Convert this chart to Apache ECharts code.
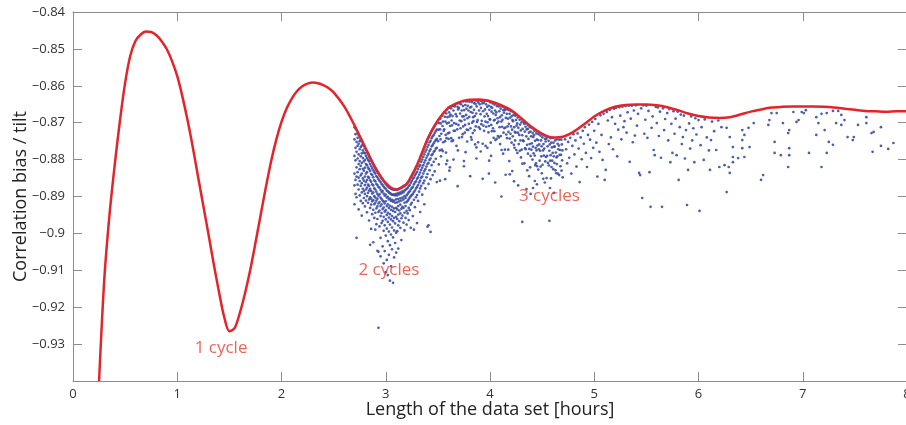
<!DOCTYPE html>
<html>
<head>
<meta charset="utf-8">
<script src="https://cdn.jsdelivr.net/npm/echarts@6/dist/echarts.min.js"></script>
<style>
html,body{margin:0;padding:0;background:#fff;}
#chart{width:906px;height:425px;}
</style>
</head>
<body>
<div id="chart"></div>
<script>
// ---- Axis labels ----
var xTickLabels = ['0','1','2','3','4','5','6','7','8'];
var xTitle = 'Length of the data set [hours]';
var yTitle = 'Correlation bias / tilt';

// ---- Red curve ----
var curveX = [0.25,0.30,0.35,0.40,0.45,0.50,0.55,0.60,0.65,0.70,0.75,0.80,0.85,0.90,0.95,1.00,1.05,1.10,1.15,1.20,1.25,1.30,1.35,1.40,1.45,1.50,1.55,1.60,1.65,1.70,1.75,1.80,1.85,1.90,1.95,2.00,2.05,2.10,2.15,2.20,2.25,2.30,2.35,2.40,2.45,2.50,2.60,2.70,2.80,2.90,3.00,3.10,3.20,3.30,3.40,3.50,3.60,3.70,3.80,3.90,4.00,4.10,4.20,4.30,4.40,4.50,4.60,4.70,4.80,4.90,5.00,5.10,5.20,5.30,5.40,5.50,5.60,5.70,5.80,5.90,6.00,6.10,6.20,6.30,6.40,6.50,6.60,6.70,6.80,6.90,7.00,7.10,7.20,7.30,7.40,7.50,7.60,7.70,7.80,7.90,8.00];
var curveY = [-0.9400,-0.9125,-0.8950,-0.8815,-0.8695,-0.8592,-0.8518,-0.8478,-0.8461,-0.8453,-0.8454,-0.8463,-0.8479,-0.8501,-0.8533,-0.8574,-0.8630,-0.8695,-0.8768,-0.8847,-0.8925,-0.9003,-0.9083,-0.9158,-0.9226,-0.9265,-0.9257,-0.9216,-0.9162,-0.9099,-0.9026,-0.8950,-0.8875,-0.8805,-0.8746,-0.8698,-0.8661,-0.8634,-0.8614,-0.8601,-0.8594,-0.8591,-0.8593,-0.8598,-0.8606,-0.8618,-0.8655,-0.8707,-0.8765,-0.8822,-0.8864,-0.8881,-0.8866,-0.8815,-0.8745,-0.8694,-0.8660,-0.8645,-0.8638,-0.8637,-0.8642,-0.8652,-0.8666,-0.8688,-0.8712,-0.8730,-0.8740,-0.8738,-0.8725,-0.8705,-0.8683,-0.8667,-0.8657,-0.8652,-0.8651,-0.8651,-0.8653,-0.8658,-0.8666,-0.8675,-0.8682,-0.8686,-0.8687,-0.8685,-0.8678,-0.8670,-0.8664,-0.8659,-0.8657,-0.8656,-0.8656,-0.8656,-0.8657,-0.8659,-0.8662,-0.8665,-0.8668,-0.8669,-0.8670,-0.8669,-0.8669];

// ---- Blue scatter, trough cluster: columns [x, y1, y2, ...] ----
var troughColumns = [
[2.70,-0.8712,-0.8745,-0.8790,-0.8838,-0.8870,-0.8921],
[2.71,-0.8716,-0.8731,-0.8768,-0.8802,-0.8855,-0.8893],
[2.72,-0.8720,-0.8752,-0.8779,-0.8821,-0.8846,-0.8902,-0.9012],
[2.73,-0.8728,-0.8741,-0.8763,-0.8797,-0.8834,-0.8868],
[2.74,-0.8733,-0.8757,-0.8786,-0.8812,-0.8849,-0.8881,-0.8935],
[2.75,-0.8739,-0.8750,-0.8772,-0.8804,-0.8826,-0.8858,-0.8897],
[2.76,-0.8745,-0.8766,-0.8791,-0.8817,-0.8843,-0.8871,-0.8912],
[2.77,-0.8751,-0.8762,-0.8783,-0.8809,-0.8838,-0.8864,-0.8889,-0.8952],
[2.78,-0.8757,-0.8775,-0.8796,-0.8825,-0.8851,-0.8879,-0.8918],
[2.79,-0.8763,-0.8781,-0.8805,-0.8830,-0.8857,-0.8885,-0.8904],
[2.80,-0.8769,-0.8783,-0.8801,-0.8822,-0.8846,-0.8869,-0.8893,-0.8927],
[2.81,-0.8774,-0.8790,-0.8812,-0.8838,-0.8861,-0.8881,-0.8911],
[2.82,-0.8780,-0.8796,-0.8815,-0.8834,-0.8855,-0.8876,-0.8899,-0.8943],
[2.83,-0.8786,-0.8801,-0.8822,-0.8847,-0.8868,-0.8890,-0.8917],
[2.84,-0.8792,-0.8805,-0.8826,-0.8849,-0.8871,-0.8884,-0.8908,-0.8965],
[2.85,-0.8797,-0.8812,-0.8831,-0.8856,-0.8879,-0.8902,-0.8931,-0.9031],
[2.86,-0.8803,-0.8818,-0.8839,-0.8860,-0.8885,-0.8906,-0.8922,-0.8988],
[2.87,-0.8808,-0.8824,-0.8842,-0.8867,-0.8892,-0.8913,-0.8948],
[2.88,-0.8813,-0.8829,-0.8848,-0.8870,-0.8889,-0.8910,-0.8936,-0.9024],
[2.89,-0.8819,-0.8834,-0.8856,-0.8878,-0.8899,-0.8921,-0.8958],
[2.90,-0.8824,-0.8838,-0.8859,-0.8881,-0.8903,-0.8917,-0.8944,-0.8990],
[2.91,-0.8829,-0.8845,-0.8866,-0.8887,-0.8911,-0.8932,-0.8975],
[2.92,-0.8833,-0.8848,-0.8869,-0.8893,-0.8906,-0.8927,-0.8961,-0.9047],
[2.93,-0.8838,-0.8853,-0.8874,-0.8898,-0.8919,-0.8942,-0.9050,-0.9256],
[2.94,-0.8842,-0.8857,-0.8876,-0.8894,-0.8915,-0.8938,-0.8981],
[2.95,-0.8846,-0.8861,-0.8882,-0.8903,-0.8926,-0.8953,-0.9012,-0.9062],
[2.96,-0.8850,-0.8866,-0.8888,-0.8907,-0.8921,-0.8945,-0.8972],
[2.97,-0.8854,-0.8869,-0.8885,-0.8911,-0.8934,-0.8966,-0.9035],
[2.98,-0.8858,-0.8873,-0.8892,-0.8914,-0.8930,-0.8955,-0.8993,-0.9081],
[2.99,-0.8862,-0.8877,-0.8898,-0.8919,-0.8941,-0.8978,-0.9048],
[3.00,-0.8866,-0.8879,-0.8895,-0.8913,-0.8937,-0.8962,-0.9006,-0.9105],
[3.01,-0.8869,-0.8884,-0.8903,-0.8926,-0.8950,-0.8987,-0.9072],
[3.02,-0.8872,-0.8886,-0.8901,-0.8921,-0.8944,-0.8969,-0.9021,-0.9113],
[3.03,-0.8875,-0.8889,-0.8908,-0.8931,-0.8957,-0.8995,-0.9058],
[3.04,-0.8877,-0.8891,-0.8906,-0.8925,-0.8948,-0.8976,-0.9032,-0.9128],
[3.05,-0.8879,-0.8893,-0.8912,-0.8936,-0.8962,-0.9003,-0.9089],
[3.06,-0.8880,-0.8895,-0.8909,-0.8928,-0.8953,-0.8984,-0.9043],
[3.07,-0.8881,-0.8896,-0.8914,-0.8939,-0.8967,-0.9011,-0.9134],
[3.08,-0.8882,-0.8894,-0.8911,-0.8932,-0.8958,-0.8992,-0.9065],
[3.09,-0.8882,-0.8897,-0.8917,-0.8942,-0.8973,-0.9026],
[3.10,-0.8881,-0.8893,-0.8908,-0.8931,-0.8955,-0.8998,-0.9052],
[3.11,-0.8882,-0.8897,-0.8916,-0.8935,-0.8961,-0.8994],
[3.12,-0.8880,-0.8891,-0.8907,-0.8926,-0.8949,-0.8978,-0.9041],
[3.13,-0.8879,-0.8894,-0.8913,-0.8938,-0.8967],
[3.14,-0.8877,-0.8889,-0.8905,-0.8922,-0.8946,-0.8985],
[3.15,-0.8876,-0.8892,-0.8911,-0.8933,-0.8959,-0.9018],
[3.16,-0.8874,-0.8886,-0.8903,-0.8928,-0.8952],
[3.17,-0.8872,-0.8889,-0.8908,-0.8931,-0.8971],
[3.18,-0.8870,-0.8884,-0.8899,-0.8917,-0.8944,-0.8992],
[3.19,-0.8869,-0.8882,-0.8904,-0.8926,-0.8958],
[3.20,-0.8866,-0.8879,-0.8897,-0.8915,-0.8939,-0.8976],
[3.21,-0.8863,-0.8877,-0.8893,-0.8912,-0.8946],
[3.22,-0.8859,-0.8872,-0.8889,-0.8908,-0.8931,-0.8964],
[3.23,-0.8854,-0.8869,-0.8886,-0.8903,-0.8937],
[3.24,-0.8848,-0.8863,-0.8881,-0.8899,-0.8922,-0.8985],
[3.25,-0.8843,-0.8858,-0.8877,-0.8896,-0.8917],
[3.26,-0.8837,-0.8852,-0.8874,-0.8893,-0.8953],
[3.27,-0.8832,-0.8849,-0.8867,-0.8888,-0.8909,-0.8990],
[3.28,-0.8827,-0.8843,-0.8862,-0.8884,-0.8929],
[3.29,-0.8821,-0.8838,-0.8859,-0.8878,-0.8902],
[3.30,-0.8816,-0.8833,-0.8852,-0.8874,-0.8896,-0.8972],
[3.31,-0.8809,-0.8826,-0.8848,-0.8869,-0.8912],
[3.32,-0.8802,-0.8819,-0.8841,-0.8862,-0.8887],
[3.33,-0.8795,-0.8815,-0.8835,-0.8857,-0.8878,-0.8942],
[3.34,-0.8788,-0.8806,-0.8828,-0.8849,-0.8871],
[3.35,-0.8781,-0.8800,-0.8822,-0.8846,-0.8895],
[3.36,-0.8774,-0.8793,-0.8815,-0.8838,-0.8864],
[3.37,-0.8767,-0.8786,-0.8808,-0.8831,-0.8857,-0.8921],
[3.38,-0.8760,-0.8779,-0.8802,-0.8826,-0.8878],
[3.39,-0.8753,-0.8773,-0.8795,-0.8819,-0.8848],
[3.40,-0.8746,-0.8766,-0.8789,-0.8812,-0.8839,-0.8982],
[3.41,-0.8740,-0.8760,-0.8784,-0.8809,-0.8866,-0.8978],
[3.42,-0.8734,-0.8753,-0.8777,-0.8801,-0.8829],
[3.43,-0.8728,-0.8749,-0.8772,-0.8797,-0.8853,-0.8996],
[3.44,-0.8723,-0.8742,-0.8764,-0.8788,-0.8815],
[3.45,-0.8718,-0.8737,-0.8761,-0.8785,-0.8842],
[3.46,-0.8713,-0.8733,-0.8756,-0.8779,-0.8806],
[3.47,-0.8708,-0.8728,-0.8751,-0.8776,-0.8832],
[3.48,-0.8704,-0.8723,-0.8747,-0.8770,-0.8798],
[3.49,-0.8699,-0.8719,-0.8744,-0.8768,-0.8861]
];

// ---- Blue scatter, band under the 2nd crest: [x, y] ----
var crestPoints = [
[3.503,-0.8693],[3.511,-0.8701],[3.507,-0.8719],[3.515,-0.8736],[3.502,-0.8750],[3.518,-0.8775],[3.509,-0.8813],
[3.524,-0.8689],[3.528,-0.8702],[3.521,-0.8718],[3.533,-0.8730],[3.526,-0.8745],[3.537,-0.8773],[3.530,-0.8791],
[3.542,-0.8681],[3.549,-0.8697],[3.545,-0.8709],[3.556,-0.8722],[3.551,-0.8753],[3.547,-0.8777],
[3.563,-0.8672],[3.567,-0.8684],[3.572,-0.8697],[3.561,-0.8718],[3.575,-0.8733],[3.569,-0.8750],[3.578,-0.8781],
[3.585,-0.8665],[3.581,-0.8675],[3.592,-0.8685],[3.588,-0.8702],[3.596,-0.8729],[3.583,-0.8742],[3.590,-0.8803],
[3.602,-0.8659],[3.608,-0.8672],[3.613,-0.8683],[3.605,-0.8700],[3.617,-0.8709],[3.610,-0.8727],[3.603,-0.8744],[3.615,-0.8821],
[3.626,-0.8661],[3.621,-0.8678],[3.631,-0.8694],[3.636,-0.8707],[3.628,-0.8742],[3.633,-0.8750],
[3.644,-0.8655],[3.649,-0.8667],[3.641,-0.8682],[3.655,-0.8701],[3.652,-0.8722],[3.646,-0.8748],
[3.667,-0.8651],[3.662,-0.8656],[3.671,-0.8677],[3.675,-0.8703],[3.664,-0.8722],[3.678,-0.8763],
[3.683,-0.8648],[3.689,-0.8657],[3.694,-0.8664],[3.681,-0.8683],[3.697,-0.8706],[3.686,-0.8718],[3.692,-0.8775],
[3.706,-0.8648],[3.702,-0.8660],[3.713,-0.8675],[3.709,-0.8694],[3.717,-0.8715],[3.704,-0.8741],
[3.722,-0.8650],[3.728,-0.8667],[3.734,-0.8683],[3.725,-0.8696],[3.738,-0.8731],[3.731,-0.8739],
[3.745,-0.8642],[3.741,-0.8655],[3.752,-0.8666],[3.748,-0.8683],[3.756,-0.8692],[3.743,-0.8710],[3.758,-0.8727],[3.750,-0.8804],
[3.768,-0.8642],[3.763,-0.8652],[3.774,-0.8662],[3.771,-0.8679],[3.761,-0.8706],[3.777,-0.8719],[3.766,-0.8780],
[3.782,-0.8642],[3.787,-0.8654],[3.793,-0.8667],[3.784,-0.8688],[3.797,-0.8703],[3.790,-0.8720],[3.781,-0.8751],
[3.804,-0.8643],[3.809,-0.8659],[3.815,-0.8671],[3.801,-0.8684],[3.812,-0.8715],[3.818,-0.8739],
[3.826,-0.8644],[3.821,-0.8657],[3.832,-0.8673],[3.838,-0.8685],[3.829,-0.8700],[3.835,-0.8728],[3.824,-0.8746],
[3.843,-0.8639],[3.849,-0.8647],[3.846,-0.8665],[3.855,-0.8682],[3.841,-0.8696],[3.852,-0.8721],[3.857,-0.8759],
[3.865,-0.8640],[3.861,-0.8649],[3.872,-0.8656],[3.868,-0.8675],[3.876,-0.8698],[3.863,-0.8710],[3.870,-0.8767],
[3.884,-0.8641],[3.889,-0.8646],[3.895,-0.8667],[3.881,-0.8693],[3.892,-0.8712],[3.886,-0.8753],
[3.907,-0.8640],[3.902,-0.8650],[3.913,-0.8660],[3.909,-0.8677],[3.917,-0.8704],[3.904,-0.8717],[3.911,-0.8778],
[3.923,-0.8642],[3.928,-0.8648],[3.934,-0.8669],[3.921,-0.8695],[3.937,-0.8708],[3.930,-0.8757],
[3.945,-0.8640],[3.941,-0.8646],[3.952,-0.8664],[3.948,-0.8683],[3.956,-0.8697],[3.943,-0.8722],[3.958,-0.8763],
[3.966,-0.8641],[3.962,-0.8650],[3.973,-0.8657],[3.969,-0.8676],[3.977,-0.8699],[3.964,-0.8711],[3.975,-0.8768],
[3.983,-0.8641],[3.988,-0.8654],[3.994,-0.8665],[3.981,-0.8682],[3.997,-0.8691],[3.990,-0.8709],[3.985,-0.8726],[3.992,-0.8803],
[4.004,-0.8645],[4.009,-0.8657],[4.015,-0.8670],[4.001,-0.8691],[4.012,-0.8706],[4.018,-0.8723],[4.007,-0.8754],
[4.026,-0.8648],[4.021,-0.8660],[4.032,-0.8675],[4.038,-0.8694],[4.029,-0.8715],[4.035,-0.8741],
[4.043,-0.8651],[4.049,-0.8667],[4.055,-0.8679],[4.046,-0.8692],[4.041,-0.8723],[4.052,-0.8747],
[4.065,-0.8655],[4.061,-0.8672],[4.072,-0.8688],[4.068,-0.8701],[4.076,-0.8736],[4.063,-0.8744],
[4.084,-0.8656],[4.089,-0.8669],[4.095,-0.8685],[4.081,-0.8697],[4.092,-0.8712],[4.086,-0.8740],[4.097,-0.8758],
[4.107,-0.8654],[4.102,-0.8662],[4.113,-0.8680],[4.109,-0.8697],[4.117,-0.8711],[4.104,-0.8736],[4.111,-0.8774],
[4.123,-0.8657],[4.128,-0.8666],[4.134,-0.8673],[4.121,-0.8692],[4.137,-0.8715],[4.130,-0.8727],[4.126,-0.8784],
[4.145,-0.8661],[4.141,-0.8666],[4.152,-0.8687],[4.148,-0.8713],[4.156,-0.8732],[4.143,-0.8773],
[4.166,-0.8664],[4.162,-0.8676],[4.173,-0.8689],[4.169,-0.8710],[4.177,-0.8725],[4.164,-0.8742],[4.175,-0.8773],
[4.183,-0.8666],[4.188,-0.8676],[4.194,-0.8686],[4.181,-0.8703],[4.197,-0.8730],[4.190,-0.8743],[4.185,-0.8804],
[4.204,-0.8669],[4.209,-0.8682],[4.215,-0.8693],[4.201,-0.8710],[4.212,-0.8719],[4.218,-0.8737],[4.207,-0.8754],[4.213,-0.8831],
[4.226,-0.8679],[4.221,-0.8696],[4.232,-0.8712],[4.238,-0.8725],[4.229,-0.8760],[4.235,-0.8768],
[4.243,-0.8681],[4.249,-0.8693],[4.255,-0.8708],[4.246,-0.8727],[4.241,-0.8748],[4.252,-0.8774],
[4.265,-0.8686],[4.261,-0.8702],[4.272,-0.8714],[4.268,-0.8727],[4.276,-0.8758],[4.263,-0.8782],
[4.284,-0.8692],[4.289,-0.8705],[4.295,-0.8721],[4.281,-0.8733],[4.292,-0.8748],[4.286,-0.8776],[4.297,-0.8794],
[4.307,-0.8691],[4.302,-0.8699],[4.313,-0.8717],[4.309,-0.8734],[4.317,-0.8748],[4.304,-0.8773],[4.311,-0.8811],
[4.323,-0.8698],[4.328,-0.8703],[4.334,-0.8724],[4.321,-0.8750],[4.337,-0.8769],[4.330,-0.8810],
[4.345,-0.8702],[4.341,-0.8711],[4.352,-0.8718],[4.348,-0.8737],[4.356,-0.8760],[4.343,-0.8772],[4.358,-0.8829],
[4.366,-0.8707],[4.362,-0.8717],[4.373,-0.8727],[4.369,-0.8744],[4.377,-0.8771],[4.364,-0.8784],[4.375,-0.8845],
[4.383,-0.8712],[4.388,-0.8724],[4.394,-0.8737],[4.381,-0.8758],[4.397,-0.8773],[4.390,-0.8790],[4.385,-0.8821],
[4.404,-0.8715],[4.409,-0.8728],[4.415,-0.8739],[4.401,-0.8756],[4.412,-0.8765],[4.418,-0.8783],[4.407,-0.8800],[4.413,-0.8877],
[4.426,-0.8722],[4.421,-0.8734],[4.432,-0.8749],[4.438,-0.8768],[4.429,-0.8789],[4.435,-0.8815],
[4.443,-0.8729],[4.449,-0.8746],[4.455,-0.8762],[4.446,-0.8775],[4.441,-0.8810],[4.452,-0.8818],
[4.465,-0.8731],[4.461,-0.8747],[4.472,-0.8759],[4.468,-0.8772],[4.476,-0.8803],[4.463,-0.8827],
[4.484,-0.8735],[4.489,-0.8748],[4.495,-0.8764],[4.481,-0.8776],[4.492,-0.8791],[4.486,-0.8819],[4.497,-0.8837],
[4.507,-0.8732],[4.502,-0.8740],[4.513,-0.8758],[4.509,-0.8775],[4.517,-0.8789],[4.504,-0.8814],[4.511,-0.8852],
[4.523,-0.8735],[4.528,-0.8744],[4.534,-0.8751],[4.521,-0.8770],[4.537,-0.8793],[4.530,-0.8805],[4.526,-0.8862],
[4.545,-0.8738],[4.541,-0.8743],[4.552,-0.8764],[4.548,-0.8790],[4.556,-0.8809],[4.543,-0.8850],
[4.566,-0.8739],[4.562,-0.8749],[4.573,-0.8759],[4.569,-0.8776],[4.577,-0.8803],[4.564,-0.8816],[4.575,-0.8877],
[4.583,-0.8742],[4.588,-0.8754],[4.594,-0.8767],[4.581,-0.8788],[4.597,-0.8803],[4.590,-0.8820],[4.585,-0.8851],
[4.604,-0.8741],[4.609,-0.8754],[4.615,-0.8765],[4.601,-0.8782],[4.612,-0.8791],[4.618,-0.8809],[4.607,-0.8826],[4.613,-0.8890],
[4.626,-0.8748],[4.621,-0.8765],[4.632,-0.8781],[4.638,-0.8794],[4.629,-0.8829],[4.635,-0.8837],
[4.643,-0.8745],[4.649,-0.8757],[4.655,-0.8772],[4.646,-0.8791],[4.641,-0.8812],[4.652,-0.8838],
[4.665,-0.8746],[4.661,-0.8762],[4.672,-0.8774],[4.668,-0.8787],[4.676,-0.8818],[4.663,-0.8842],
[4.684,-0.8746],[4.689,-0.8759],[4.695,-0.8775],[4.681,-0.8787],[4.692,-0.8802],[4.686,-0.8830],[4.697,-0.8848],
[3.93,-0.8852],[4.11,-0.8900],[4.31,-0.8969],[4.57,-0.8966],[3.58,-0.8812],[3.61,-0.8830],[3.69,-0.8872],[3.75,-0.8818],
[3.81,-0.8845],[3.87,-0.8797],[3.99,-0.8838],[4.05,-0.8862],[4.19,-0.8840],[4.27,-0.8870],[4.39,-0.8893],[4.45,-0.8867],
[3.52,-0.8857],[3.57,-0.8853],[4.15,-0.8841],[4.35,-0.8880],[4.23,-0.8859],[3.65,-0.8800],[4.01,-0.8790],[4.43,-0.8858]
];

// ---- Blue scatter, sparse tail: [x, y] ----
var tailPoints = [
[4.72,-0.8745],[4.73,-0.8772],[4.74,-0.8810],[4.75,-0.8752],[4.76,-0.8795],[4.77,-0.8741],[4.78,-0.8838],[4.79,-0.8763],
[4.80,-0.8731],[4.81,-0.8786],[4.82,-0.8748],[4.83,-0.8819],[4.84,-0.8729],[4.85,-0.8770],[4.86,-0.8861],[4.87,-0.8740],[4.88,-0.8799],[4.89,-0.8722],
[4.90,-0.8757],[4.91,-0.8712],[4.92,-0.8782],[4.93,-0.8820],[4.94,-0.8733],[4.95,-0.8705],[4.96,-0.8746],[4.97,-0.8796],[4.98,-0.8698],[4.99,-0.8768],
[5.00,-0.8722],[5.01,-0.8690],[5.02,-0.8754],[5.03,-0.8846],[5.04,-0.8703],[5.05,-0.8779],[5.06,-0.8680],[5.07,-0.8733],[5.08,-0.8801],[5.09,-0.8676],
[5.10,-0.8855],[5.11,-0.8828],[5.12,-0.8671],[5.13,-0.8694],[5.14,-0.8758],[5.15,-0.8665],[5.16,-0.8740],[5.17,-0.8685],[5.18,-0.8772],[5.19,-0.8662],
[5.20,-0.8703],[5.21,-0.8660],[5.22,-0.8791],[5.23,-0.8719],[5.24,-0.8658],[5.25,-0.8681],[5.26,-0.8745],[5.27,-0.8657],[5.28,-0.8712],[5.29,-0.8696],
[5.30,-0.8655],[5.31,-0.8727],[5.32,-0.8672],[5.33,-0.8654],[5.34,-0.8806],[5.35,-0.8689],[5.36,-0.8654],[5.37,-0.8753],[5.38,-0.8667],[5.39,-0.8735],
[5.40,-0.8653],[5.41,-0.8708],[5.42,-0.8676],[5.43,-0.8836],[5.44,-0.8842],[5.45,-0.8661],[5.46,-0.8904],[5.47,-0.8653],[5.48,-0.8730],[5.49,-0.8692],
[5.50,-0.8654],[5.51,-0.8741],[5.52,-0.8668],[5.53,-0.8834],[5.54,-0.8928],[5.55,-0.8714],[5.56,-0.8683],[5.57,-0.8774],[5.58,-0.8788],[5.59,-0.8657],
[5.60,-0.8701],[5.61,-0.8659],[5.62,-0.8736],[5.63,-0.8670],[5.64,-0.8795],[5.65,-0.8928],[5.66,-0.8661],[5.67,-0.8720],[5.68,-0.8690],
[5.70,-0.8674],[5.71,-0.8748],[5.72,-0.8663],[5.73,-0.8807],[5.74,-0.8703],[5.75,-0.8782],[5.76,-0.8669],[5.77,-0.8730],[5.78,-0.8689],[5.79,-0.8788],
[5.80,-0.8670],[5.81,-0.8855],[5.82,-0.8712],[5.83,-0.8678],[5.84,-0.8758],[5.85,-0.8739],[5.86,-0.8681],[5.87,-0.8797],[5.88,-0.8720],[5.89,-0.8923],
[5.90,-0.8828],[5.91,-0.8702],[5.92,-0.8770],[5.93,-0.8683],[5.94,-0.8748],[5.95,-0.8715],[5.96,-0.8807],[5.97,-0.8688],[5.98,-0.8732],
[6.00,-0.8693],[6.01,-0.8939],[6.02,-0.8761],[6.03,-0.8712],[6.05,-0.8801],[6.06,-0.8691],[6.08,-0.8740],[6.10,-0.8775],[6.11,-0.8828],[6.12,-0.8747],
[6.13,-0.8697],[6.15,-0.8723],[6.17,-0.8774],[6.19,-0.8694],[6.20,-0.8820],[6.22,-0.8712],[6.25,-0.8815],
[6.27,-0.8714],[6.27,-0.8888],[6.29,-0.8820],[6.30,-0.8739],[6.30,-0.8836],[6.33,-0.8766],[6.33,-0.8793],[6.33,-0.8807],[6.38,-0.8796],
[6.42,-0.8720],[6.42,-0.8747],[6.42,-0.8769],[6.44,-0.8733],[6.44,-0.8793],[6.48,-0.8714],[6.49,-0.8766],[6.53,-0.8701],
[6.60,-0.8855],[6.62,-0.8842],[6.67,-0.8706],[6.68,-0.8693],[6.70,-0.8674],[6.73,-0.8752],[6.73,-0.8782],[6.75,-0.8674],[6.79,-0.8788],
[6.81,-0.8701],[6.86,-0.8728],[6.86,-0.8820],[6.87,-0.8720],[6.87,-0.8769],[6.87,-0.8788],[6.91,-0.8671],[6.94,-0.8698],[6.96,-0.8693],
[6.99,-0.8671],[7.01,-0.8674],[7.03,-0.8666],[7.06,-0.8782],[7.13,-0.8733],[7.13,-0.8685],[7.15,-0.8701],[7.18,-0.8676],[7.18,-0.8820],
[7.21,-0.8720],[7.23,-0.8674],[7.23,-0.8782],[7.25,-0.8752],[7.29,-0.8760],[7.29,-0.8668],[7.32,-0.8701],[7.34,-0.8668],[7.37,-0.8679],
[7.37,-0.8706],[7.40,-0.8693],[7.43,-0.8739],[7.48,-0.8747],[7.49,-0.8739],[7.53,-0.8706],[7.61,-0.8701],[7.61,-0.8685],[7.66,-0.8728],
[7.67,-0.8779],[7.68,-0.8725],[7.75,-0.8712],[7.75,-0.8763],[7.82,-0.8771],[7.87,-0.8755]
];

// ---- Annotations ----
var annotationText = ['1 cycle', '2 cycles', '3 cycles'];
var annotationX = [1.42, 3.03, 4.57];
var annotationY = [-0.9311, -0.9099, -0.8899];

// ---- Build series data ----
var curveData = curveX.map(function (x, i) { return [x, curveY[i]]; });
var scatterData = [];
troughColumns.forEach(function (col) {
  for (var k = 1; k < col.length; k++) scatterData.push([col[0], col[k]]);
});
crestPoints.forEach(function (p) { scatterData.push([p[0], p[1]]); });
tailPoints.forEach(function (p) { scatterData.push([p[0], p[1]]); });
var annotationData = annotationText.map(function (t, i) {
  return { value: [annotationX[i], annotationY[i]], name: t };
});

var FONT = 'Open Sans';
var axisGray = '#8c8c8c';

function yFmt(v) {
  var r = Math.round(v * 100) / 100;
  if (r <= -0.94) return '';
  return '\u2212' + String(Math.abs(r));
}

var chart = echarts.init(document.getElementById('chart'), null, { renderer: 'canvas' });
chart.setOption({
  animation: false,
  backgroundColor: '#ffffff',
  grid: { left: 73, right: -1, top: 12, bottom: 44, containLabel: false, outerBoundsMode: 'none' },
  xAxis: [{
    type: 'value', min: 0, max: 8, interval: 1, position: 'bottom',
    name: xTitle, nameLocation: 'middle', nameGap: 20, nameMoveOverlap: false,
    nameTextStyle: { fontFamily: FONT, fontSize: 18, color: '#222' },
    axisLine: { show: true, onZero: false, lineStyle: { color: axisGray, width: 1 } },
    axisTick: { show: true, inside: true, length: 9, lineStyle: { color: axisGray } },
    axisLabel: { fontFamily: FONT, fontSize: 13, color: '#333', margin: 7,
      formatter: function (v) { return xTickLabels[Math.round(v)]; } },
    splitLine: { show: false }
  }, {
    type: 'value', min: 0, max: 8, interval: 1, position: 'top',
    axisLine: { show: true, onZero: false, lineStyle: { color: axisGray, width: 1 } },
    axisTick: { show: true, inside: true, length: 9, lineStyle: { color: axisGray } },
    axisLabel: { show: false }, splitLine: { show: false }
  }],
  yAxis: [{
    type: 'value', min: -0.94, max: -0.84, interval: 0.01, position: 'left',
    name: yTitle, nameLocation: 'middle', nameGap: 43, nameRotate: 90, nameMoveOverlap: false,
    nameTextStyle: { fontFamily: FONT, fontSize: 18, color: '#222' },
    axisLine: { show: true, onZero: false, lineStyle: { color: axisGray, width: 1 } },
    axisTick: { show: true, inside: true, length: 9, lineStyle: { color: axisGray } },
    axisLabel: { fontFamily: FONT, fontSize: 13, color: '#333', margin: 8, formatter: yFmt },
    splitLine: { show: false }
  }, {
    type: 'value', min: -0.94, max: -0.84, interval: 0.01, position: 'right',
    axisLine: { show: true, onZero: false, lineStyle: { color: axisGray, width: 1 } },
    axisTick: { show: true, inside: true, length: 9, lineStyle: { color: axisGray } },
    axisLabel: { show: false }, splitLine: { show: false }
  }],
  series: [{
    type: 'scatter', xAxisIndex: 0, yAxisIndex: 0,
    data: scatterData, symbol: 'circle', symbolSize: 2.7,
    itemStyle: { color: '#3a4ea3', opacity: 0.9 }, z: 2, silent: true
  }, {
    type: 'line', xAxisIndex: 0, yAxisIndex: 0,
    data: curveData, smooth: 0.3, showSymbol: false, symbol: 'none',
    lineStyle: { color: '#e2252b', width: 2.5 }, z: 5, silent: true
  }, {
    type: 'scatter', xAxisIndex: 0, yAxisIndex: 0,
    data: annotationData, symbolSize: 0, z: 6, silent: true,
    label: { show: true, position: 'inside', formatter: '{b}',
      fontFamily: FONT, fontSize: 17, color: '#e43d30' }
  }]
});
</script>
</body>
</html>
